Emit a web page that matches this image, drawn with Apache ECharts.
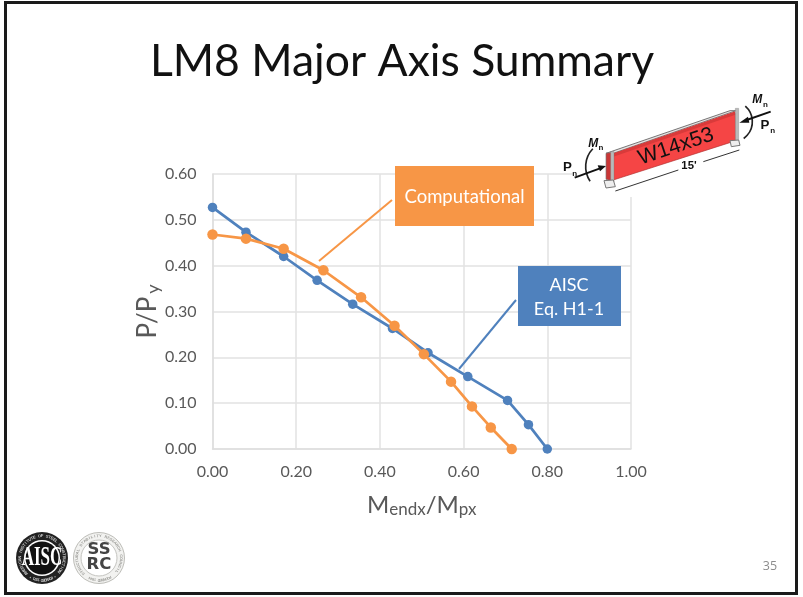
<!DOCTYPE html>
<html><head><meta charset="utf-8">
<style>html,body{margin:0;padding:0;background:#fff}#c{width:803px;height:597px}</style>
<script src="https://cdn.jsdelivr.net/npm/echarts@6/dist/echarts.min.js"></script>
</head><body><div id="c"></div>
<script>
const titleText = 'LM8 Major Axis Summary';
const aiscX = [0, 0.08, 0.17, 0.25, 0.335, 0.43, 0.515, 0.61, 0.705, 0.755, 0.80];
const aiscY = [0.527, 0.473, 0.42, 0.368, 0.316, 0.263, 0.21, 0.158, 0.106, 0.053, 0];
const compX = [0, 0.08, 0.17, 0.265, 0.355, 0.435, 0.505, 0.57, 0.62, 0.665, 0.715];
const compY = [0.468, 0.459, 0.437, 0.39, 0.331, 0.269, 0.207, 0.147, 0.093, 0.047, 0];
const BLUE = '#4F81BD', ORANGE = '#F79646', FONT = 'Lato, Carlito, sans-serif';

const chart = echarts.init(document.getElementById('c'), null, {renderer: 'canvas'});

function ringText(cx, cy, r, str, size, color, startDeg, spanDeg, z) {
  const out = [];
  [...str].forEach((ch, i) => {
    const a = (startDeg + spanDeg * i / str.length) * Math.PI / 180;
    out.push({type: 'text', z, x: cx + r * Math.sin(a), y: cy - r * Math.cos(a), rotation: -a,
      style: {text: ch, fontSize: size, fontWeight: 'bold', fontFamily: 'Liberation Sans', fill: color, align: 'center', verticalAlign: 'middle'}});
  });
  return out;
}
const poly = (points, fill, stroke, lw, z) => ({type: 'polygon', z: z || 10, shape: {points}, style: {fill, stroke: stroke || null, lineWidth: lw || 0}});
const line = (x1, y1, x2, y2, stroke, lw, z) => ({type: 'line', z: z || 10, shape: {x1, y1, x2, y2}, style: {stroke, lineWidth: lw}});
const arc = (cx, cy, r, a0, a1, z) => ({type: 'arc', z: z || 12, shape: {cx, cy, r, startAngle: a0, endAngle: a1}, style: {stroke: '#222', lineWidth: 5, fill: null}});
const label = (x, y, t, size, rot, extra) => ({type: 'text', z: 14, x, y, rotation: rot || 0, style: Object.assign({text: t, fontSize: size, fontWeight: 'bold', fontFamily: 'Liberation Sans', fill: '#111', align: 'center', verticalAlign: 'middle'}, extra || {})});

// Beam sketch, drawn in a 3x space so that it can be placed as one group
const beam = {type: 'group', x: 550, y: 90, scaleX: 1/3, scaleY: 1/3, z: 10, children: [
  poly([[168,190],[540,62],[558,62],[190,190]], '#E8E0E0', '#777', 3),
  poly([[190,195],[556,70],[558,152],[190,270]], '#F54545', '#B03030', 2),
  poly([[190,190],[556,64],[556,74],[190,200]], '#D93A3A'),
  poly([[168,190],[190,186],[190,275],[168,268]], '#C93636', '#777', 2),
  poly([[182,185],[192,185],[192,276],[182,276]], '#B9B9B9', '#777', 1),
  poly([[556,55],[566,55],[566,155],[556,155]], '#B9B9B9', '#777', 1),
  poly([[162,272],[190,270],[196,290],[168,294]], '#EEE', '#777', 3),
  poly([[540,152],[566,150],[570,166],[544,170]], '#EEE', '#777', 3),
  {type: 'text', z: 13, x: 378, y: 170, rotation: 18.5 * Math.PI / 180, style: {text: 'W14x53', fontSize: 64, fontFamily: 'Liberation Sans', fill: '#111', align: 'center', verticalAlign: 'middle'}},
  line(196, 303, 385, 240, '#333', 3),
  line(460, 215, 568, 180, '#333', 3),
  label(417, 227, "15'", 34),
  label(52, 231, 'P', 40),
  label(74, 250, 'n', 24),
  label(645, 107, 'P', 40),
  label(668, 122, 'n', 24),
  label(130, 160, 'M', 36, 0, {fontStyle: 'italic'}),
  label(153, 174, 'n', 24),
  label(622, 30, 'M', 36, 0, {fontStyle: 'italic'}),
  label(646, 45, 'n', 24),
  arc(185, 230, 78, 2.55, 3.9),
  arc(545, 95, 62, -0.85, 0.95),
  line(74, 263, 150, 235, '#111', 6, 13),
  poly([[168,228],[143,226],[150,244]], '#111', null, 0, 13),
  line(662, 65, 590, 90, '#111', 6, 13),
  poly([[568,98],[594,80],[598,98]], '#111', null, 0, 13)
]};

const graphic = [
  {type: 'rect', z: 0, silent: true, shape: {x: 5.5, y: 2.5, width: 791, height: 591}, style: {fill: 'none', stroke: '#1A1A1A', lineWidth: 3}},
  {type: 'text', z: 5, x: 402, y: 62, style: {text: titleText, fontSize: 44.5, fontFamily: FONT, fill: '#111', align: 'center', verticalAlign: 'middle'}},
  {type: 'rect', z: 8, shape: {x: 573, y: 92, width: 215, height: 105}, style: {fill: '#fff'}},
  beam,
  line(319, 261, 392, 200, ORANGE, 2),
  {type: 'rect', z: 9, shape: {x: 395, y: 166, width: 139, height: 60}, style: {fill: ORANGE}},
  {type: 'text', z: 10, x: 464.5, y: 197, style: {text: 'Computational', fontSize: 18.5, fontFamily: FONT, fill: '#fff', align: 'center', verticalAlign: 'middle'}},
  line(459, 369, 516, 300, BLUE, 2),
  {type: 'rect', z: 9, shape: {x: 518, y: 266, width: 103, height: 60}, style: {fill: BLUE}},
  {type: 'text', z: 10, x: 569, y: 297, style: {text: 'AISC\nEq. H1-1', fontSize: 18, lineHeight: 24, fontFamily: FONT, fill: '#fff', align: 'center', verticalAlign: 'middle'}},
  {type: 'text', z: 10, x: 770, y: 566, style: {text: '35', fontSize: 12.5, fontFamily: 'Open Sans', fill: '#8C8C8C', align: 'center', verticalAlign: 'middle'}},
  // AISC seal
  {type: 'circle', z: 10, shape: {cx: 42, cy: 558, r: 26}, style: {fill: '#222'}},
  ...ringText(42, 558, 22, 'AMERICAN INSTITUTE OF STEEL CONSTRUCTION', 4.2, '#C8C8C8', -135, 270, 12),
  ...ringText(42, 558, 22, '* FOUNDED 1921 *', 4, '#C8C8C8', 145, 70, 12),
  {type: 'circle', z: 11, shape: {cx: 42, cy: 558, r: 18}, style: {fill: '#fff'}},
  {type: 'circle', z: 11, shape: {cx: 42, cy: 558, r: 16.5}, style: {fill: '#111'}},
  {type: 'text', z: 12, x: 42, y: 558, scaleY: 1.55, style: {text: 'AISC', fontSize: 17, fontWeight: 'bold', fontFamily: 'Liberation Sans Narrow', fill: '#fff', align: 'center', verticalAlign: 'middle'}},
  // SSRC seal
  {type: 'circle', z: 10, shape: {cx: 99, cy: 558, r: 25.5}, style: {fill: '#F2F2F0', stroke: '#BDBDB8', lineWidth: 1}},
  ...ringText(99, 558, 22, 'STRUCTURAL STABILITY RESEARCH COUNCIL', 3.8, '#9A9A96', -135, 270, 11),
  ...ringText(99, 558, 22, 'FOUNDED 1944', 3.6, '#9A9A96', 150, 60, 11),
  {type: 'circle', z: 11, shape: {cx: 99, cy: 558, r: 18}, style: {fill: '#fff', stroke: '#C4C4C0', lineWidth: 1}},
  {type: 'text', z: 12, x: 99, y: 558, scaleX: 1.1, style: {text: 'SS\nRC', fontSize: 15, lineHeight: 15, fontFamily: 'DejaVu Sans', fontWeight: 'bold', fill: '#444', align: 'center', verticalAlign: 'middle'}}
];

const toPairs = (xs, ys) => xs.map((x, i) => [x, ys[i]]);
const tick = v => v.toFixed(2);

chart.setOption({
  animation: false,
  backgroundColor: '#fff',
  grid: {left: 212.5, right: 172, top: 174, bottom: 148, containLabel: false},
  xAxis: {
    type: 'value', min: 0, max: 1, interval: 0.2,
    axisLine: {show: true, lineStyle: {color: '#DEDEDE', width: 1.5}}, axisTick: {show: false},
    splitLine: {show: true, lineStyle: {color: '#E2E2E2', width: 1.5}},
    axisLabel: {formatter: tick, color: '#595959', fontSize: 16, fontFamily: FONT, margin: 15},
    name: '{m|M}{s|endx}{m|/M}{s|px}', nameLocation: 'middle', nameGap: 43, nameMoveOverlap: false,
    nameTextStyle: {rich: {
      m: {fontSize: 24, fontFamily: FONT, color: '#595959'},
      s: {fontSize: 17, fontFamily: FONT, color: '#595959', verticalAlign: 'bottom', padding: [9, 0, 0, 0]}
    }}
  },
  yAxis: {
    type: 'value', min: 0, max: 0.6, interval: 0.1,
    axisLine: {show: true, lineStyle: {color: '#DEDEDE', width: 1.5}}, axisTick: {show: false},
    splitLine: {show: true, lineStyle: {color: '#E2E2E2', width: 1.5}},
    axisLabel: {formatter: tick, color: '#595959', fontSize: 16, fontFamily: FONT, margin: 16},
    name: '{m|P/P}{s|y}', nameLocation: 'middle', nameGap: 50, nameMoveOverlap: false,
    nameTextStyle: {rich: {
      m: {fontSize: 26, fontFamily: FONT, color: '#595959'},
      s: {fontSize: 18, fontFamily: FONT, color: '#595959', verticalAlign: 'bottom', padding: [12, 0, 0, 3]}
    }}
  },
  series: [
    {name: 'AISC Eq. H1-1', type: 'line', data: toPairs(aiscX, aiscY), symbol: 'circle', symbolSize: 9.5, showSymbol: true,
      lineStyle: {color: BLUE, width: 2.75}, itemStyle: {color: BLUE}, z: 3, clip: false},
    {name: 'Computational', type: 'line', data: toPairs(compX, compY), symbol: 'circle', symbolSize: 10.5, showSymbol: true,
      lineStyle: {color: ORANGE, width: 2.75}, itemStyle: {color: ORANGE}, z: 4, clip: false}
  ],
  graphic: {elements: graphic}
});
</script></body></html>
